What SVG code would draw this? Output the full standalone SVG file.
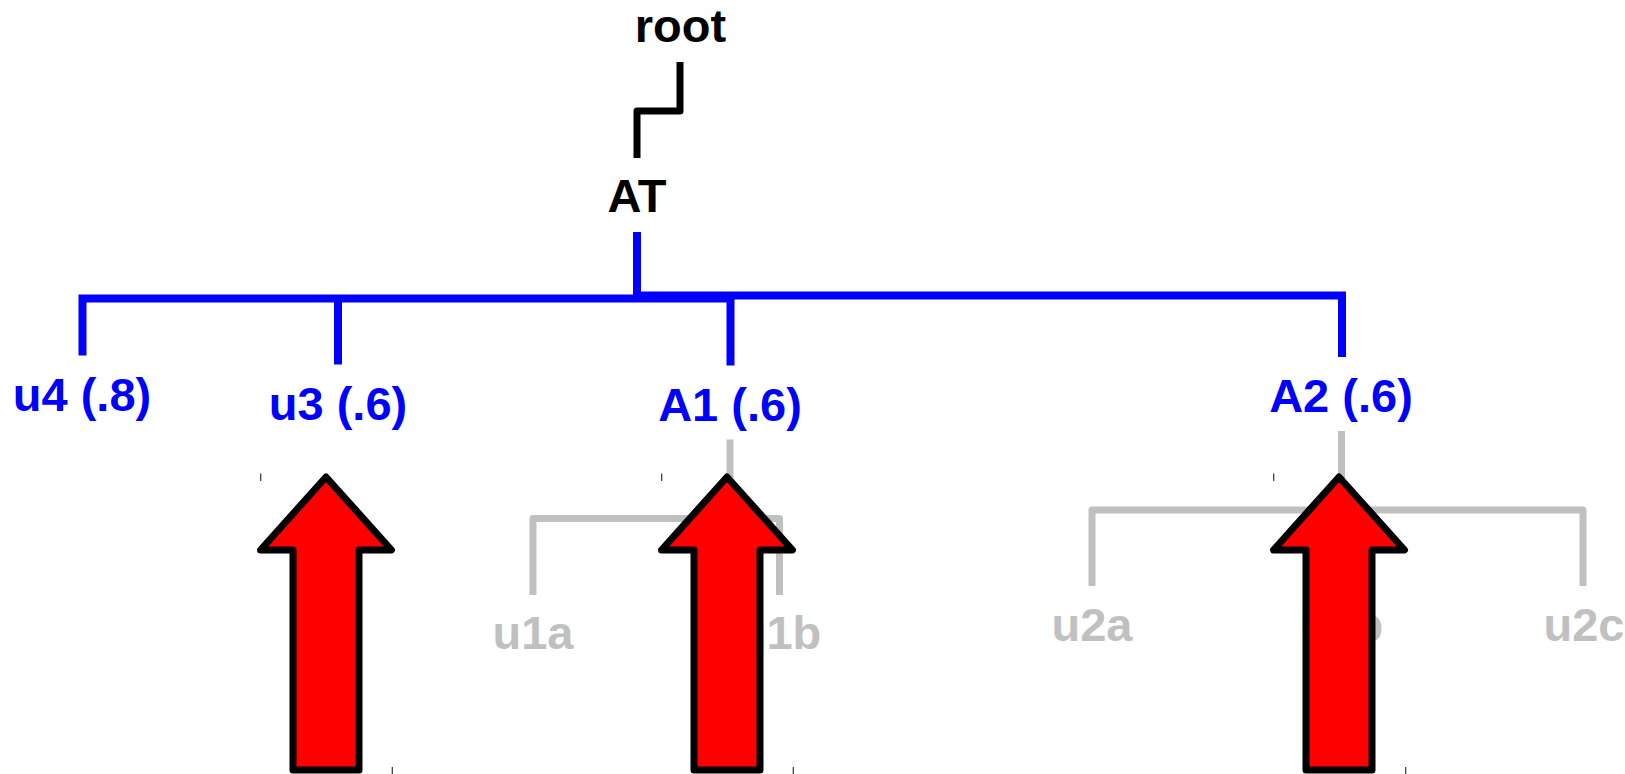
<svg xmlns="http://www.w3.org/2000/svg" width="1625" height="774" viewBox="0 0 1625 774">
  <style>
    text { font-family: "Liberation Sans", Arial, sans-serif; font-weight: bold; font-size: 47px; text-anchor: middle; }
    .blk { fill: #000000; }
    .blu { fill: #0000ff; }
    .gry { fill: #c0c0c0; }
    .cb { fill: none; stroke: #000000; stroke-width: 7; stroke-linejoin: round; }
    .cu { fill: none; stroke: #0000ff; stroke-width: 8; stroke-linejoin: miter; }
    .cg { fill: none; stroke: #c0c0c0; stroke-width: 7; stroke-linejoin: round; }
    .arrow { fill: #ff0000; stroke: #000000; stroke-width: 7; stroke-linejoin: round; }
    .tick { stroke: #333333; stroke-width: 1.2; }
  </style>

  <g id="connectors">
    <path class="cb" d="M680 62 V111 H637 V158"/>
    <path class="cu" d="M637 232 V295.5 H1342 V357"/>
    <path class="cu" d="M82.5 355.5 V298.5 H730.5 V365.5"/>
    <path class="cu" d="M338 298.5 V364.5"/>
    <path class="cg" d="M730 439.5 V518.5"/>
    <path class="cg" d="M533 595 V518.5 H779.5 V595"/>
    <path class="cg" d="M1341.5 431 V510"/>
    <path class="cg" d="M1092 586 V510 H1583 V586"/>
  </g>

  <g id="node-root"><text class="blk" x="680.5" y="41.5">root</text></g>
  <g id="node-AT"><text class="blk" x="637" y="212">AT</text></g>
  <g id="node-u4"><text class="blu" x="82" y="410.5">u4 (.8)</text></g>
  <g id="node-u3"><text class="blu" x="338" y="419.5">u3 (.6)</text></g>
  <g id="node-A1"><text class="blu" x="730" y="420.5">A1 (.6)</text></g>
  <g id="node-A2"><text class="blu" x="1341" y="412">A2 (.6)</text></g>
  <g id="node-u1a"><text class="gry" x="533" y="648.5">u1a</text></g>
  <g id="node-u1b"><text class="gry" x="779.5" y="648.5">u1b</text></g>
  <g id="node-u2a"><text class="gry" x="1092" y="640.5">u2a</text></g>
  <g id="node-u2b"><text class="gry" x="1341.5" y="640.5">u2b</text></g>
  <g id="node-u2c"><text class="gry" x="1584" y="640.5">u2c</text></g>

  <g id="arrows">
    <polygon class="arrow" points="326,477 391.5,550 359,550 359,770 293,770 293,550 260.5,550"/>
    <polygon class="arrow" points="727,477 792.5,550 760,550 760,770 694,770 694,550 661.5,550"/>
    <polygon class="arrow" points="1339,477 1404.5,550 1372,550 1372,770 1306,770 1306,550 1273.5,550"/>
  </g>

  <g id="ticks">
    <line class="tick" x1="260.7" y1="473.5" x2="260.7" y2="481"/>
    <line class="tick" x1="392.3" y1="767" x2="392.3" y2="774"/>
    <line class="tick" x1="661.7" y1="473.5" x2="661.7" y2="481"/>
    <line class="tick" x1="793.3" y1="767" x2="793.3" y2="774"/>
    <line class="tick" x1="1273.7" y1="473.5" x2="1273.7" y2="481"/>
    <line class="tick" x1="1405.7" y1="767" x2="1405.7" y2="774"/>
  </g>
</svg>
